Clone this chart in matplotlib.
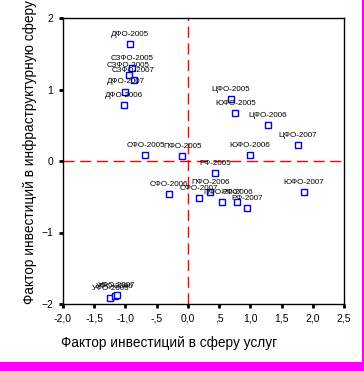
import matplotlib
matplotlib.use("Agg")
import matplotlib.pyplot as plt
from matplotlib.patches import Rectangle

# Factor scores per district / year
labels = [
    "ДФО-2005", "СЗФО-2005", "СЗФО-2005", "СЗФО-2007", "ДФО-2007", "ДФО-2006",
    "ЦФО-2005", "ЮФО-2005", "ЦФО-2006", "ЦФО-2007",
    "СФО-2005", "ПФО-2005", "ЮФО-2006", "РФ-2005",
    "СФО-2006", "СФО-2007", "ПФО-2006", "ПФО-2007", "РФ-2006", "РФ-2007",
    "ЮФО-2007", "УФО-2005", "УФО-2006", "УФО-2007",
]
x_services = [
    -0.93, -0.90, -0.95, -0.87, -1.00, -1.02,
    0.69, 0.76, 1.28, 1.76,
    -0.68, -0.09, 0.99, 0.44,
    -0.31, 0.18, 0.36, 0.55, 0.79, 0.95,
    1.86, -1.24, -1.17, -1.14,
]
y_infra = [
    1.64, 1.30, 1.20, 1.13, 0.97, 0.78,
    0.87, 0.67, 0.50, 0.22,
    0.08, 0.07, 0.08, -0.17,
    -0.46, -0.52, -0.43, -0.57, -0.57, -0.66,
    -0.44, -1.92, -1.89, -1.88,
]
x_ticks = [-2.0, -1.5, -1.0, -0.5, 0.0, 0.5, 1.0, 1.5, 2.0, 2.5]
x_ticklabels = ["-2,0", "-1,5", "-1,0", "-,5", "0,0", ",5", "1,0", "1,5", "2,0", "2,5"]
y_ticks = [-2, -1, 0, 1, 2]

plt.rcParams['font.family'] = ['Liberation Sans', 'DejaVu Sans']

fig = plt.figure(figsize=(3.64, 3.71), dpi=100)
fig.patch.set_facecolor('white')

# magenta frame strips (right and bottom)
fig.patches.append(Rectangle((362 / 364, 0), 2 / 364, 1, transform=fig.transFigure,
                             facecolor='#ff00ff', edgecolor='none'))
fig.patches.append(Rectangle((0, 0), 1, 9 / 371, transform=fig.transFigure,
                             facecolor='#ff00ff', edgecolor='none'))

ax = fig.add_axes([63 / 364, 1 - 304 / 371, 281 / 364, 286 / 371])

ax.axvline(0, color='#ff0000', lw=1.0, ls=(0, (8, 4)), zorder=1)
ax.axhline(0, color='#ff0000', lw=1.0, ls=(0, (8, 4)), zorder=1)

ax.plot(x_services, y_infra, ls='none', marker='s', markersize=4.4,
        markerfacecolor='white', markeredgecolor='#0000ee', markeredgewidth=1.0,
        zorder=2)

for lab, xv, yv in zip(labels, x_services, y_infra):
    ax.annotate(lab, (xv, yv), xytext=(0, 7), textcoords='offset points',
                ha='center', va='center', fontsize=5.8, color='black', zorder=3)

ax.set_xlim(-2.0, 2.5)
ax.set_ylim(-2.0, 2.0)
ax.set_xticks(x_ticks)
ax.set_xticklabels(x_ticklabels)
ax.set_yticks(y_ticks)
ax.tick_params(direction='out', length=3, width=2, labelsize=7.5, pad=4)

for sp in ax.spines.values():
    sp.set_linewidth(1.0)
    sp.set_color('black')

# axis titles
fig.text(169 / 364, 1 - 343 / 371, "Фактор инвестиций в сферу услуг",
         ha='center', va='center', fontsize=9.8)
fig.text(30 / 364, 1 - 152 / 371, "Фактор инвестиций в инфраструктурную сферу",
         ha='center', va='center', rotation=90, fontsize=9.8)

fig.savefig("out.png", dpi=100)
